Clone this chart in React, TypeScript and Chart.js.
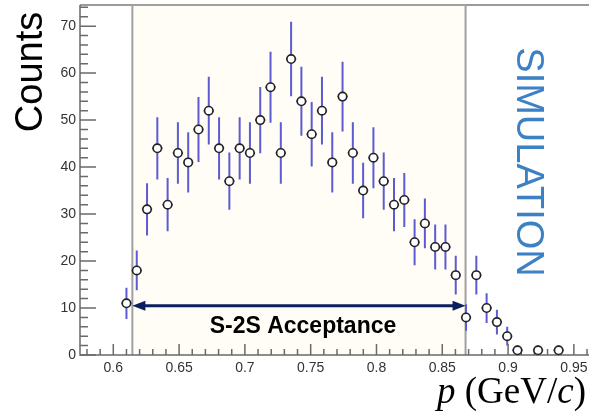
import React, { useEffect, useRef } from "react";
import { Chart, registerables } from "chart.js";

Chart.register(...registerables);

// ---- data ----
const counts = [
  11, 18, 31, 44, 32, 43, 41, 48, 52, 44, 37, 44, 43, 50, 57, 43, 63, 54, 47, 52,
  41, 55, 43, 35, 42, 37, 32, 33, 24, 28, 23, 23, 17, 8, 17, 10, 7, 4, 1, 0, 1, 0, 1,
];
const firstBinCenter = 0.61;
const binWidth = 0.00782;
const xTicks = [0.6, 0.65, 0.7, 0.75, 0.8, 0.85, 0.9, 0.95];
const xTickLabels = ["0.6", "0.65", "0.7", "0.75", "0.8", "0.85", "0.9", "0.95"];
const yTicks = [0, 10, 20, 30, 40, 50, 60, 70];
const yTickLabels = ["0", "10", "20", "30", "40", "50", "60", "70"];
const xMin = 0.5747;
const xMax = 0.9615;
const yMin = 0;
const yMax = 74.5;
const acceptanceRange = [0.6145, 0.8677];
const arrowLevel = 10.5;
const acceptanceLabel = "S-2S Acceptance";
const yTitle = "Counts";
const watermark = "SIMULATION";

const binCenters = counts.map((_, i) => firstBinCenter + i * binWidth);
const points = counts
  .map((c, i) => ({ x: binCenters[i], y: c }))
  .filter((p) => p.y > 0);

const ERR_COLOR = "#5c5cd2";
const AXIS_COLOR = "#6a6a6a";

const decorPlugin = {
  id: "decor",
  beforeDatasetsDraw(chart: any) {
    const { ctx, chartArea: ca, scales } = chart;
    const x = scales.x;
    const y = scales.y;
    const ax0 = x.getPixelForValue(acceptanceRange[0]);
    const ax1 = x.getPixelForValue(acceptanceRange[1]);
    ctx.save();
    // acceptance region fill
    ctx.fillStyle = "#fffdf5";
    ctx.fillRect(ax0, ca.top, ax1 - ax0, ca.bottom - ca.top);

    // frame top line
    ctx.strokeStyle = "#7a7a7a";
    ctx.lineWidth = 1.5;
    ctx.beginPath();
    ctx.moveTo(ca.left, ca.top);
    ctx.lineTo(ca.right, ca.top);
    ctx.stroke();

    // acceptance border
    ctx.strokeStyle = "#a0a0a0";
    ctx.lineWidth = 2;
    ctx.beginPath();
    ctx.moveTo(ax0, ca.bottom);
    ctx.lineTo(ax0, ca.top);
    ctx.lineTo(ax1, ca.top);
    ctx.lineTo(ax1, ca.bottom);
    ctx.stroke();

    // axes
    ctx.strokeStyle = AXIS_COLOR;
    ctx.lineWidth = 1.5;
    ctx.beginPath();
    ctx.moveTo(ca.left, ca.top);
    ctx.lineTo(ca.left, ca.bottom);
    ctx.lineTo(ca.right, ca.bottom);
    ctx.stroke();

    // y ticks (inside)
    ctx.lineWidth = 1.5;
    ctx.beginPath();
    for (let v = 0; v <= yMax; v += 2) {
      const py = y.getPixelForValue(v);
      const len = v % 10 === 0 ? 16 : 8;
      ctx.moveTo(ca.left, py);
      ctx.lineTo(ca.left + len, py);
    }
    // x ticks (inside)
    for (let k = Math.ceil(xMin * 100); k <= Math.floor(xMax * 100); k++) {
      const px = x.getPixelForValue(k / 100);
      const len = k % 5 === 0 ? 11 : 6;
      ctx.moveTo(px, ca.bottom);
      ctx.lineTo(px, ca.bottom - len);
    }
    ctx.stroke();

    // acceptance arrow
    const ay = y.getPixelForValue(arrowLevel);
    ctx.strokeStyle = "#0b1f5e";
    ctx.fillStyle = "#0b1f5e";
    ctx.lineWidth = 3;
    ctx.beginPath();
    ctx.moveTo(ax0 + 8, ay);
    ctx.lineTo(ax1 - 8, ay);
    ctx.stroke();
    ctx.beginPath();
    ctx.moveTo(ax0, ay);
    ctx.lineTo(ax0 + 13, ay - 5);
    ctx.lineTo(ax0 + 13, ay + 5);
    ctx.closePath();
    ctx.fill();
    ctx.beginPath();
    ctx.moveTo(ax1, ay);
    ctx.lineTo(ax1 - 13, ay - 5);
    ctx.lineTo(ax1 - 13, ay + 5);
    ctx.closePath();
    ctx.fill();

    // error bars
    ctx.strokeStyle = ERR_COLOR;
    ctx.lineWidth = 2;
    ctx.beginPath();
    counts.forEach((c, i) => {
      if (c <= 0) return;
      const cx = binCenters[i];
      const e = Math.sqrt(c);
      const px = x.getPixelForValue(cx);
      ctx.moveTo(px, y.getPixelForValue(Math.max(0, c - e)));
      ctx.lineTo(px, y.getPixelForValue(c + e));
      const py = y.getPixelForValue(c);
      ctx.moveTo(x.getPixelForValue(cx - binWidth / 2), py);
      ctx.lineTo(x.getPixelForValue(cx + binWidth / 2), py);
    });
    ctx.stroke();
    ctx.restore();
  },
  afterDraw(chart: any) {
    const { ctx, chartArea: ca, scales } = chart;
    const x = scales.x;
    const y = scales.y;
    ctx.save();
    // y title
    ctx.fillStyle = "#000";
    ctx.font = '38px "Liberation Sans"';
    ctx.textAlign = "center";
    ctx.textBaseline = "alphabetic";
    ctx.save();
    ctx.translate(42, ca.top + 67);
    ctx.rotate(-Math.PI / 2);
    ctx.fillText(yTitle, 0, 0);
    ctx.restore();

    // watermark
    ctx.save();
    ctx.fillStyle = "#3d80c4";
    ctx.font = '38px "Liberation Sans"';
    ctx.textAlign = "center";
    ctx.translate(517, 162);
    ctx.rotate(Math.PI / 2);
    ctx.fillText(watermark, 0, 0);
    ctx.restore();

    // acceptance label
    const ax0 = x.getPixelForValue(acceptanceRange[0]);
    const ax1 = x.getPixelForValue(acceptanceRange[1]);
    ctx.fillStyle = "#000";
    ctx.font = 'bold 23px "Liberation Sans"';
    ctx.textAlign = "center";
    ctx.fillText(acceptanceLabel, (ax0 + ax1) / 2 + 4, y.getPixelForValue(arrowLevel) + 27);

    // x title: p (GeV/c)
    const parts: [string, boolean][] = [
      ["p", true],
      [" (GeV/", false],
      ["c", true],
      [")", false],
    ];
    const fontFor = (it: boolean) => (it ? 'italic 37px "Liberation Serif"' : '37px "Liberation Serif"');
    let total = 0;
    parts.forEach(([t, it]) => {
      ctx.font = fontFor(it);
      total += ctx.measureText(t).width;
    });
    let cx = 586 - total;
    ctx.textAlign = "left";
    parts.forEach(([t, it]) => {
      ctx.font = fontFor(it);
      ctx.fillText(t, cx, 403);
      cx += ctx.measureText(t).width;
    });
    ctx.restore();
  },
};

export default function App() {
  const canvasRef = useRef<HTMLCanvasElement | null>(null);

  useEffect(() => {
    document.body.style.margin = "0";
    const canvas = canvasRef.current;
    if (!canvas) return;
    const chart = new Chart(canvas, {
      type: "scatter",
      data: {
        datasets: [
          {
            data: points,
            pointStyle: "circle",
            pointRadius: 4.2,
            pointBorderWidth: 1.6,
            pointBorderColor: "#222",
            pointBackgroundColor: "#fff",
            showLine: false,
            clip: false,
          } as any,
        ],
      },
      options: {
        animation: false,
        responsive: false,
        devicePixelRatio: 1,
        layout: { autoPadding: false, padding: { top: 5, right: 0, left: 0, bottom: 0 } },
        plugins: {
          legend: { display: false },
          tooltip: { enabled: false },
        },
        scales: {
          x: {
            type: "linear",
            min: xMin,
            max: xMax,
            grid: { display: false, drawTicks: false },
            border: { display: false },
            afterBuildTicks: (s: any) => {
              s.ticks = xTicks.map((v) => ({ value: v }));
            },
            afterFit: (s: any) => {
              s.height = 62;
              s.paddingLeft = 0;
              s.paddingRight = 0;
            },
            ticks: {
              autoSkip: false,
              maxRotation: 0,
              padding: 5,
              color: "#333",
              font: { family: "Liberation Sans", size: 14 },
              callback: (v: any) => {
                const i = xTicks.findIndex((t) => Math.abs(t - Number(v)) < 1e-6);
                return i >= 0 ? xTickLabels[i] : "";
              },
            },
          },
          y: {
            type: "linear",
            min: yMin,
            max: yMax,
            grid: { display: false, drawTicks: false },
            border: { display: false },
            afterBuildTicks: (s: any) => {
              s.ticks = yTicks.map((v) => ({ value: v }));
            },
            afterFit: (s: any) => {
              s.width = 80;
              s.paddingTop = 0;
              s.paddingBottom = 0;
            },
            ticks: {
              autoSkip: false,
              padding: 4,
              color: "#333",
              font: { family: "Liberation Sans", size: 14 },
              callback: (v: any) => {
                const i = yTicks.findIndex((t) => Math.abs(t - Number(v)) < 1e-6);
                return i >= 0 ? yTickLabels[i] : "";
              },
            },
          },
        },
      },
      plugins: [decorPlugin],
    });
    return () => chart.destroy();
  }, []);

  return (
    <div style={{ width: 589, height: 417 }}>
      <canvas ref={canvasRef} width={589} height={417} style={{ display: "block" }} />
    </div>
  );
}
